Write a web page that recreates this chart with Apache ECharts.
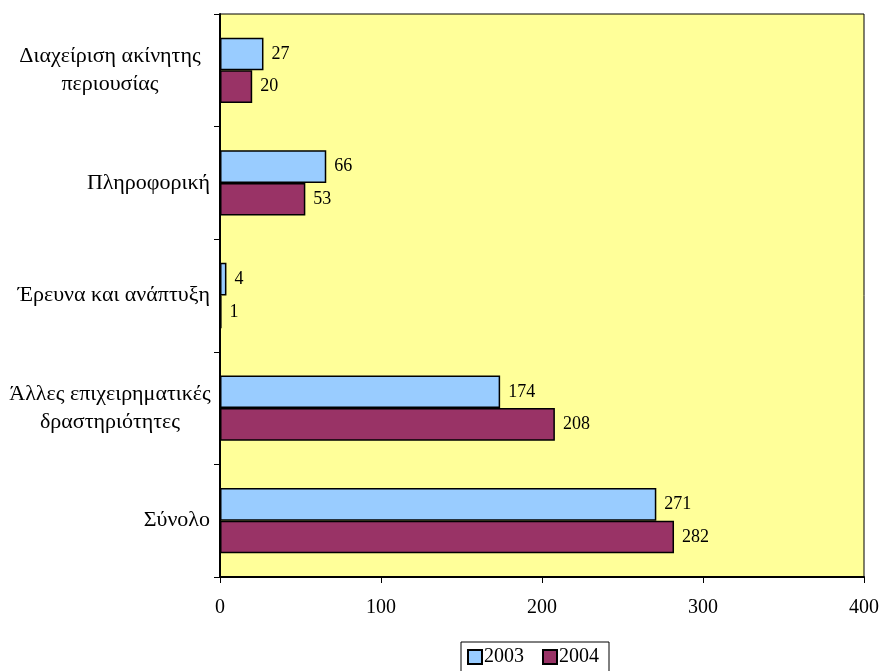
<!DOCTYPE html>
<html><head><meta charset="utf-8">
<script src="https://cdn.jsdelivr.net/npm/echarts@6/dist/echarts.min.js"></script>
<style>html,body{margin:0;padding:0;background:#fff}#c{width:882px;height:671px}</style>
</head><body><div id="c"></div>
<script>
const categories = ['Διαχείριση ακίνητης\nπεριουσίας', 'Πληροφορική', 'Έρευνα και ανάπτυξη', 'Άλλες επιχειρηματικές\nδραστηριότητες', 'Σύνολο'];
const values2003 = [27, 66, 4, 174, 271];
const values2004 = [20, 53, 1, 208, 282];
const seriesNames = ['2003', '2004'];
const xTicks = [0, 100, 200, 300, 400];

const font = 'Liberation Serif, Times New Roman, serif';
const chart = echarts.init(document.getElementById('c'));
chart.setOption({
  animation: false,
  textStyle: { fontFamily: font },
  grid: { left: 220, right: 15, top: 14, bottom: 94, show: true, backgroundColor: '#ffff99', borderColor: '#000', borderWidth: 1 },
  legend: {
    data: seriesNames, left: 461, top: 642, itemWidth: 14, itemHeight: 14, itemGap: 18, icon: 'rect',
    padding: [5, 10, 5, 6], borderColor: '#000', borderWidth: 1, backgroundColor: '#fff',
    textStyle: { fontFamily: font, fontSize: 20, color: '#000', padding: [0, 0, 0, -3] },
    itemStyle: { borderColor: '#000', borderWidth: 2 }
  },
  xAxis: {
    type: 'value', min: xTicks[0], max: xTicks[xTicks.length - 1], interval: 100,
    axisLine: { show: true, lineStyle: { color: '#000', width: 2 } },
    axisTick: { show: true, length: 6, lineStyle: { color: '#000' } },
    axisLabel: { fontFamily: font, fontSize: 20, color: '#000', margin: 21 },
    splitLine: { show: false }
  },
  yAxis: {
    type: 'category', data: categories, inverse: true,
    axisLine: { show: true, lineStyle: { color: '#000', width: 2 } },
    axisTick: { show: true, length: 6, lineStyle: { color: '#000' } },
    axisLabel: {
      fontFamily: font, fontSize: 22, color: '#000', margin: 10, lineHeight: 28,
      formatter: function (v) {
        if (v.indexOf('\n') < 0) return v;
        return v.split('\n').map(function (s) { return '{c|' + s + '}'; }).join('\n');
      },
      rich: { c: { fontFamily: font, fontSize: 22, color: '#000', lineHeight: 28, width: 200, align: 'center' } }
    },
    splitLine: { show: false }
  },
  series: [
    { name: seriesNames[0], type: 'bar', data: values2003, barGap: '0%', barCategoryGap: '42%',
      itemStyle: { color: '#99ccff', borderColor: '#000', borderWidth: 1.5 },
      label: { show: true, position: 'right', distance: 8, fontFamily: font, fontSize: 18, color: '#000' } },
    { name: seriesNames[1], type: 'bar', data: values2004, barGap: '0%', barCategoryGap: '42%',
      itemStyle: { color: '#993366', borderColor: '#000', borderWidth: 1.5 },
      label: { show: true, position: 'right', distance: 8, fontFamily: font, fontSize: 18, color: '#000' } }
  ]
});
</script></body></html>
